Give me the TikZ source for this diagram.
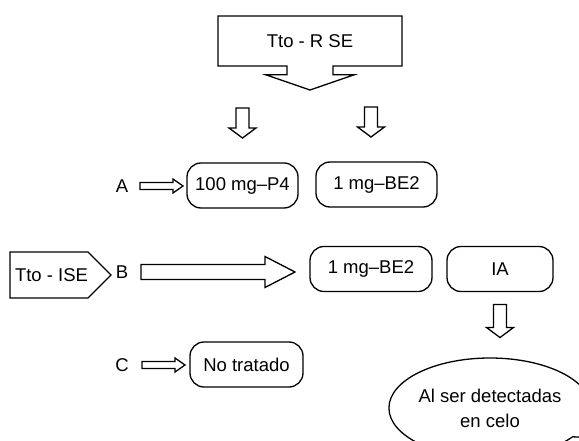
\documentclass[tikz,border=0pt]{standalone}
\usepackage{fontspec}
\setmainfont{Liberation Sans}
\usetikzlibrary{shapes.arrows, shapes.symbols, shapes.callouts, calc}
\tikzset{
  rbox/.style  = {draw, rectangle, rounded corners=14pt, minimum height=45pt, text centered},
  % hollow block arrows, shaft half width / head half width / head length
  rarrow/.style args={#1/#2/#3}{to path={let \p1=(\tikztostart), \p2=(\tikztotarget) in
    (\x1,\y1+#1) -- (\x2-#3,\y1+#1) -- (\x2-#3,\y1+#2) -- (\x2,\y1)
    -- (\x2-#3,\y1-#2) -- (\x2-#3,\y1-#1) -- (\x1,\y1-#1) -- cycle}},
  darrow/.style args={#1/#2/#3}{to path={let \p1=(\tikztostart), \p2=(\tikztotarget) in
    (\x1-#1,\y1) -- (\x1-#1,\y2+#3) -- (\x1-#2,\y2+#3) -- (\x1,\y2)
    -- (\x1+#2,\y2+#3) -- (\x1+#1,\y2+#3) -- (\x1+#1,\y1) -- cycle}},
  smallarrow/.style = {rarrow=3.5pt/7pt/10pt},
  downarrow/.style  = {darrow=6.5pt/13.5pt/10pt},
}

\begin{document}
\begin{tikzpicture}[x=1pt, y=-1pt, line width=1.3pt, every node/.style={inner sep=0pt, outer sep=0pt, font=\fontsize{18.5}{25}\selectfont, text=black}]
    \useasboundingbox (0,0) rectangle (579,441);
    \clip (0,0) rectangle (579,441);

    \node (rse) [draw, arrow box, arrow box arrows={south:24pt}, arrow box shaft width=46pt,
      arrow box head extend=21pt, arrow box head indent=0pt, arrow box tip angle=142,
      minimum width=184pt, minimum height=50pt] at (310,41) {Tto - R SE};

    \node (labA) at (122,186) {A};
    \node (p4) [rbox, minimum width=111pt] at (242.5,185.5) {100 mg–P4};
    \node (be1) [rbox, minimum width=121pt] at (376.5,184.5) {1 mg–BE2};

    \node (ise) [draw, signal, signal to=east, signal pointer angle=90, minimum width=74pt, minimum height=46pt] at (49,275) {\hspace{5pt}Tto - ISE};
    \node (labB) at (122,272) {B};
    \node (be2) [rbox, minimum width=122pt] at (371,269) {1 mg–BE2};
    \node (ia) [rbox, minimum width=106pt] at (500,269) {IA};

    \node (labC) at (122,365) {C};
    \node (no) [rbox, minimum width=113pt] at (246.5,364.5) {No tratado};

    \node (celo) [draw, ellipse callout, align=center, minimum width=192pt, minimum height=100pt,
      callout absolute pointer={(650,441)}, callout pointer arc=25] at (490,408) {Al ser detectadas\\en celo};

    \draw [downarrow] ([yshift=55pt]p4.north) to ([yshift=25pt]p4.north);
    \draw [downarrow] ([xshift=-5.5pt, yshift=55pt]be1.north) to ([xshift=-5.5pt, yshift=25pt]be1.north);
    \draw [smallarrow] ([xshift=18pt]labA.center) to ([xshift=-4pt]p4.west);
    \draw [rarrow=7.5pt/15.5pt/30pt] ([xshift=19pt]labB.center) to ([xshift=-15pt]be2.west);
    \draw [smallarrow] ([xshift=20pt]labC.center) to ([xshift=-5pt]no.west);
    \draw [downarrow] ([yshift=-13pt]ia.south) to ([yshift=-46pt]ia.south);
\end{tikzpicture}
\end{document}
